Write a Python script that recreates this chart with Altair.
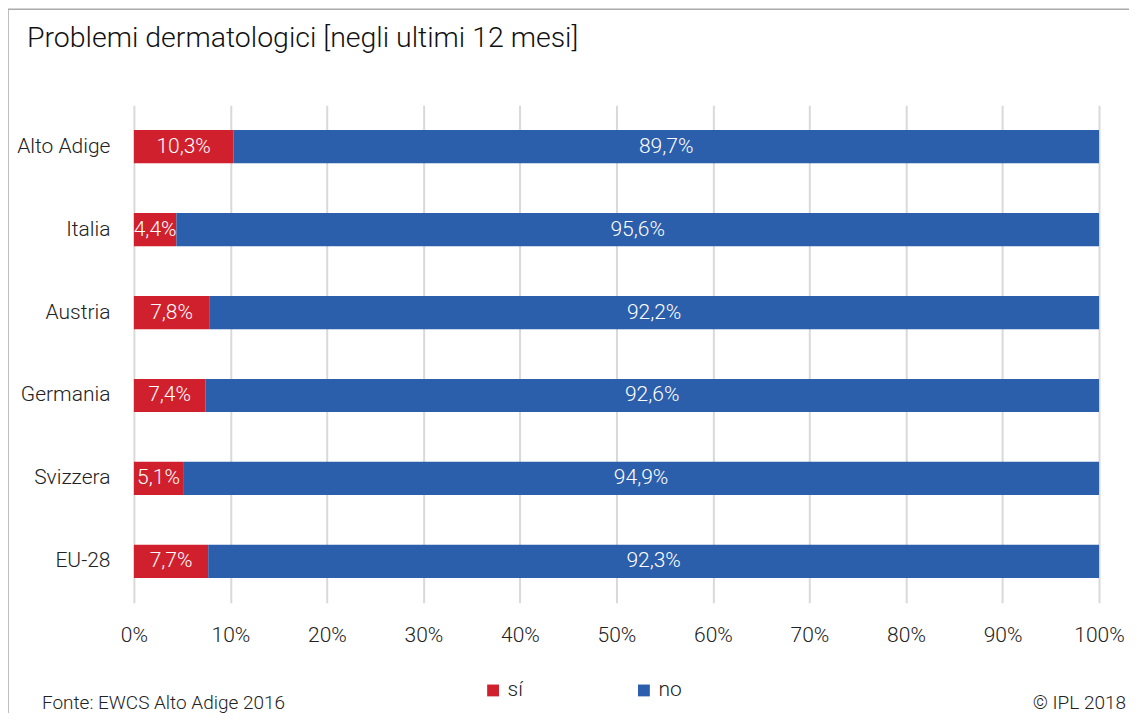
import altair as alt
import pandas as pd

categories = ["Alto Adige", "Italia", "Austria", "Germania", "Svizzera", "EU-28"]
si_values = [10.3, 4.4, 7.8, 7.4, 5.1, 7.7]
no_values = [89.7, 95.6, 92.2, 92.6, 94.9, 92.3]
series = ["sí", "no"]
colors = ["#D0202E", "#2B5EAB"]
x_ticks = [0, 10, 20, 30, 40, 50, 60, 70, 80, 90, 100]

rows = []
for c, s, n in zip(categories, si_values, no_values):
    rows.append({"cat": c, "serie": "sí", "ord": 0, "v": s})
    rows.append({"cat": c, "serie": "no", "ord": 1, "v": n})
df = pd.DataFrame(rows)
df["label"] = df["v"].map(lambda v: f"{v:.1f}".replace(".", ",") + "%")

FONT = "Roboto"
FS = 21

base = alt.Chart(df).transform_stack(
    stack="v", groupby=["cat"], as_=["x0", "x1"], sort=[alt.SortField("ord")]
).transform_calculate(mid="(datum.x0 + datum.x1) / 2")

yenc = alt.Y("cat:N", sort=categories, title=None,
             scale=alt.Scale(paddingInner=0.6, paddingOuter=0.3),
             axis=alt.Axis(labelFontSize=FS, labelFont=FONT, labelFontWeight=300,
                           labelColor="#222", labelPadding=24, ticks=False, domain=False,
                           grid=False))

bars = base.mark_bar().encode(
    x=alt.X("x0:Q", scale=alt.Scale(domain=[0, 100], nice=False), title=None,
            axis=alt.Axis(values=x_ticks, labelExpr="datum.value + '%'",
                          labelFontSize=FS, labelFont=FONT, labelFontWeight=300,
                          labelColor="#222", labelPadding=22, ticks=False, domain=False,
                          labelFlush=False,
                          grid=True, gridColor="#d9d9d9", gridWidth=2)),
    x2="x1:Q",
    y=yenc,
    color=alt.Color("serie:N", scale=alt.Scale(domain=series, range=colors), title=None,
                    legend=alt.Legend(orient="none", legendX=349, legendY=575,
                                      direction="horizontal", symbolType="square",
                                      symbolSize=140, symbolStrokeWidth=0,
                                      labelFontSize=FS, labelFont=FONT, labelFontWeight=300,
                                      labelColor="#222", columnPadding=110, labelOffset=4)),
)

labels = base.mark_text(color="white", fontSize=FS, font=FONT, fontWeight=300).encode(
    x="mid:Q", y=alt.Y("cat:N", sort=categories), text="label:N"
)

title = alt.Chart(pd.DataFrame({"t": ["Problemi dermatologici [negli ultimi 12 mesi]"]})).mark_text(
    align="left", baseline="middle", fontSize=28.5, font=FONT, fontWeight=300, color="#111"
).encode(x=alt.value(-107), y=alt.value(-67), text="t:N")

foot_l = alt.Chart(pd.DataFrame({"t": ["Fonte: EWCS Alto Adige 2016"]})).mark_text(
    align="left", baseline="middle", fontSize=19, font=FONT, fontWeight=300, color="#222"
).encode(x=alt.value(-92), y=alt.value(598), text="t:N")

foot_r = alt.Chart(pd.DataFrame({"t": ["© IPL 2018"]})).mark_text(
    align="right", baseline="middle", fontSize=19, font=FONT, fontWeight=300, color="#222"
).encode(x=alt.value(993), y=alt.value(598), text="t:N")

frame_top = alt.Chart(pd.DataFrame({"a": [0]})).mark_rule(color="#aaaaaa", strokeWidth=1.5).encode(
    x=alt.value(-126), x2=alt.value(1010), y=alt.value(-96)
)
frame_left = alt.Chart(pd.DataFrame({"a": [0]})).mark_rule(color="#aaaaaa", strokeWidth=1.5).encode(
    x=alt.value(-126), y=alt.value(-96), y2=alt.value(620)
)

chart = alt.layer(bars, labels, title, foot_l, foot_r, frame_top, frame_left).properties(
    width=966, height=498,
    autosize=alt.AutoSizeParams(type="none"),
    padding={"left": 126, "top": 97, "right": 30, "bottom": 110},
).configure(background="white").configure_view(stroke=None)

chart.save("out.html", embed_options={"renderer": "svg", "actions": False})
